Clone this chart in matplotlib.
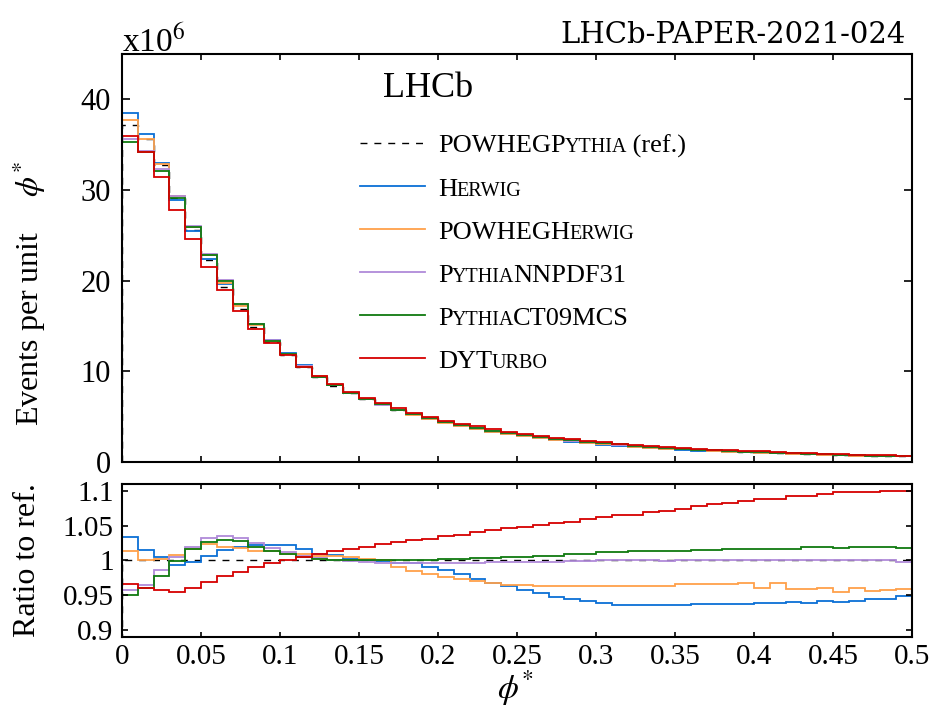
import numpy as np
import matplotlib
matplotlib.use("Agg")
import matplotlib.pyplot as plt
from matplotlib import transforms

plt.rcParams['font.family'] = ['Liberation Serif', 'DejaVu Serif']
plt.rcParams['mathtext.fontset'] = 'stix'

# binning in phi*: 50 bins of width 0.01
bin_lo = 0.0
bin_hi = 0.5
n_bins = 50

# reference prediction (POWHEG+Pythia), events per unit phi* in units of 1e6
ref_vals = [37.2, 35.6, 32.8, 29.15, 25.55, 22.25, 19.35, 16.93, 14.87, 13.18,
            11.75, 10.48, 9.40, 8.43, 7.60, 6.95, 6.35, 5.78, 5.27, 4.82,
            4.42, 4.08, 3.78, 3.44, 3.20, 2.99, 2.77, 2.56, 2.36, 2.18,
            2.04, 1.91, 1.77, 1.65, 1.52, 1.44, 1.35, 1.27, 1.19, 1.12,
            1.07, 1.01, 0.95, 0.89, 0.84, 0.78, 0.74, 0.70, 0.67, 0.64]

# ratios to the reference
ratio_herwig = [1.034, 1.015, 1.005, 0.993, 0.998, 1.006, 1.015, 1.020, 1.022, 1.022,
                1.022, 1.017, 1.010, 1.008, 1.002, 1.001, 0.999, 0.996, 0.996, 0.991,
                0.986, 0.980, 0.974, 0.968, 0.963, 0.957, 0.953, 0.948, 0.944, 0.941,
                0.939, 0.936, 0.936, 0.936, 0.936, 0.936, 0.937, 0.937, 0.937, 0.938,
                0.939, 0.939, 0.940, 0.939, 0.941, 0.940, 0.942, 0.945, 0.945, 0.949]
ratio_powheg_herwig = [1.013, 1.000, 1.002, 1.008, 1.016, 1.024, 1.020, 1.018, 1.014, 1.013,
                       1.010, 1.010, 1.007, 1.006, 1.005, 1.002, 1.001, 0.990, 0.985, 0.980,
                       0.976, 0.973, 0.970, 0.968, 0.965, 0.965, 0.964, 0.964, 0.964, 0.963,
                       0.964, 0.964, 0.964, 0.963, 0.964, 0.966, 0.966, 0.966, 0.966, 0.967,
                       0.961, 0.967, 0.959, 0.959, 0.960, 0.955, 0.960, 0.956, 0.958, 0.959]
ratio_nnpdf31 = [0.957, 0.965, 0.986, 1.005, 1.020, 1.032, 1.035, 1.032, 1.025, 1.018,
                 1.012, 1.006, 1.003, 1.001, 0.999, 0.998, 0.997, 0.997, 0.997, 0.997,
                 0.997, 0.997, 0.997, 0.998, 0.998, 0.998, 0.998, 0.998, 0.999, 0.999,
                 1.000, 1.000, 1.001, 1.000, 0.999, 1.000, 1.000, 1.001, 1.000, 1.000,
                 1.000, 1.001, 1.000, 1.001, 1.000, 1.000, 1.001, 1.000, 1.000, 0.998]
ratio_ct09mcs = [0.950, 0.960, 0.978, 0.999, 1.016, 1.027, 1.030, 1.028, 1.020, 1.014,
                 1.010, 1.005, 1.002, 1.001, 1.001, 1.000, 1.000, 1.000, 1.001, 1.001,
                 1.002, 1.002, 1.003, 1.003, 1.005, 1.005, 1.007, 1.007, 1.010, 1.010,
                 1.012, 1.012, 1.013, 1.013, 1.013, 1.013, 1.015, 1.015, 1.016, 1.017,
                 1.017, 1.017, 1.017, 1.019, 1.019, 1.018, 1.019, 1.019, 1.019, 1.018]
ratio_dyturbo = [0.966, 0.961, 0.957, 0.955, 0.961, 0.969, 0.978, 0.984, 0.990, 0.997,
                 1.001, 1.005, 1.010, 1.014, 1.017, 1.020, 1.023, 1.026, 1.029, 1.031,
                 1.035, 1.037, 1.041, 1.044, 1.047, 1.048, 1.051, 1.054, 1.056, 1.060,
                 1.062, 1.065, 1.066, 1.070, 1.071, 1.074, 1.078, 1.081, 1.082, 1.086,
                 1.088, 1.089, 1.092, 1.093, 1.095, 1.098, 1.099, 1.099, 1.100, 1.100]

edges = np.linspace(bin_lo, bin_hi, n_bins + 1)
ref = np.array(ref_vals)

# (ratio, colour, label pieces as (text, small caps?))
models = [
    (ratio_herwig, '#0b6fd6', [('H', False), ('ERWIG', True)]),
    (ratio_powheg_herwig, '#ffa04a', [('POWHEGH', False), ('ERWIG', True)]),
    (ratio_nnpdf31, '#b08ad9', [('P', False), ('YTHIA', True), ('NNPDF31', False)]),
    (ratio_ct09mcs, '#0f7a0f', [('P', False), ('YTHIA', True), ('CT09MCS', False)]),
    (ratio_dyturbo, '#d60000', [('DYT', False), ('URBO', True)]),
]
ref_label = [('POWHEGP', False), ('YTHIA', True), (' (ref.)', False)]

fig = plt.figure(figsize=(9.32, 7.09), dpi=100)
ax = fig.add_axes([0.1309, 0.3484, 0.8476, 0.5754])
axr = fig.add_axes([0.1309, 0.1016, 0.8476, 0.2158])

lw = 1.3
ax.stairs(ref, edges, color='black', lw=1.0, ls=(0, (5, 5)))
axr.stairs(np.ones(n_bins), edges, color='black', lw=1.0, ls=(0, (5, 5)))
for ratio, col, _ in models:
    r = np.array(ratio)
    ax.stairs(ref * r, edges, color=col, lw=lw)
    axr.stairs(r, edges, color=col, lw=lw)

ax.set_xlim(0, 0.5)
ax.set_ylim(0, 45)
axr.set_xlim(0, 0.5)
axr.set_ylim(0.89, 1.11)

xt = np.arange(0, 0.51, 0.05)
for a in (ax, axr):
    a.set_xticks(xt)
    for s in a.spines.values():
        s.set_linewidth(1.5)
ax.set_xticklabels([])
axr.set_xticklabels(['%g' % round(v, 2) for v in xt])
ax.set_yticks([0, 10, 20, 30, 40])
axr.set_yticks([0.9, 0.95, 1.0, 1.05, 1.1])
axr.set_yticklabels(['0.9', '0.95', '1', '1.05', '1.1'])

ax.tick_params(axis='both', which='major', direction='in', top=True, right=True,
               labelsize=22, width=1.2)
ax.tick_params(axis='x', length=4)
ax.tick_params(axis='y', length=6, pad=8)
axr.tick_params(axis='both', which='major', direction='in', top=True, right=True,
                labelsize=21, width=1.2)
axr.tick_params(axis='x', length=3.5, pad=5)
axr.tick_params(axis='y', length=4.5, pad=6)

fig.text(29 / 932, 1 - 293 / 709, r'Events per unit$\;\quad\;\phi^{*}$', rotation=90,
         ha='center', va='center', fontsize=23)
fig.text(28 / 932, 1 - 560 / 709, 'Ratio to ref.', rotation=90,
         ha='center', va='center', fontsize=23)
fig.text(515 / 932, 1 - 688 / 709, r'$\phi^{*}$', ha='center', va='center', fontsize=24)
fig.text(122 / 932, 1 - 52 / 709, r'x10$^{6}$', ha='left', va='baseline', fontsize=24)
fig.text(906 / 932, 1 - 43 / 709, 'LHCb-PAPER-2021-024', ha='right', va='baseline',
         fontsize=21, family='DejaVu Serif')

ax.text(0.330, 0.895, 'LHCb', transform=ax.transAxes, fontsize=26, va='baseline')


def caps_text(a, x, y, parts, big=19.0, small=14.5):
    # draw a label where some pieces are set in small capitals
    renderer = fig.canvas.get_renderer()
    trans = a.transAxes
    for txt, is_small in parts:
        t = a.text(x, y, txt, transform=trans, va='baseline', ha='left',
                   fontsize=small if is_small else big)
        w = t.get_window_extent(renderer=renderer).width
        trans = transforms.offset_copy(trans, fig=fig, x=w - 1, units='dots')


# legend
entries = [((0, (5, 5)), 'black', 1.0, ref_label)]
entries += [('-', col, lw, lab) for _, col, lab in models]
y0 = 0.782
dy = 0.1055
for i, (ls, col, w, lab) in enumerate(entries):
    yy = y0 - i * dy
    ax.plot([0.301, 0.3835], [yy, yy], transform=ax.transAxes, color=col, lw=w, ls=ls)
    caps_text(ax, 0.400, yy - 0.0233, lab)

fig.savefig('out.png', dpi=100)
